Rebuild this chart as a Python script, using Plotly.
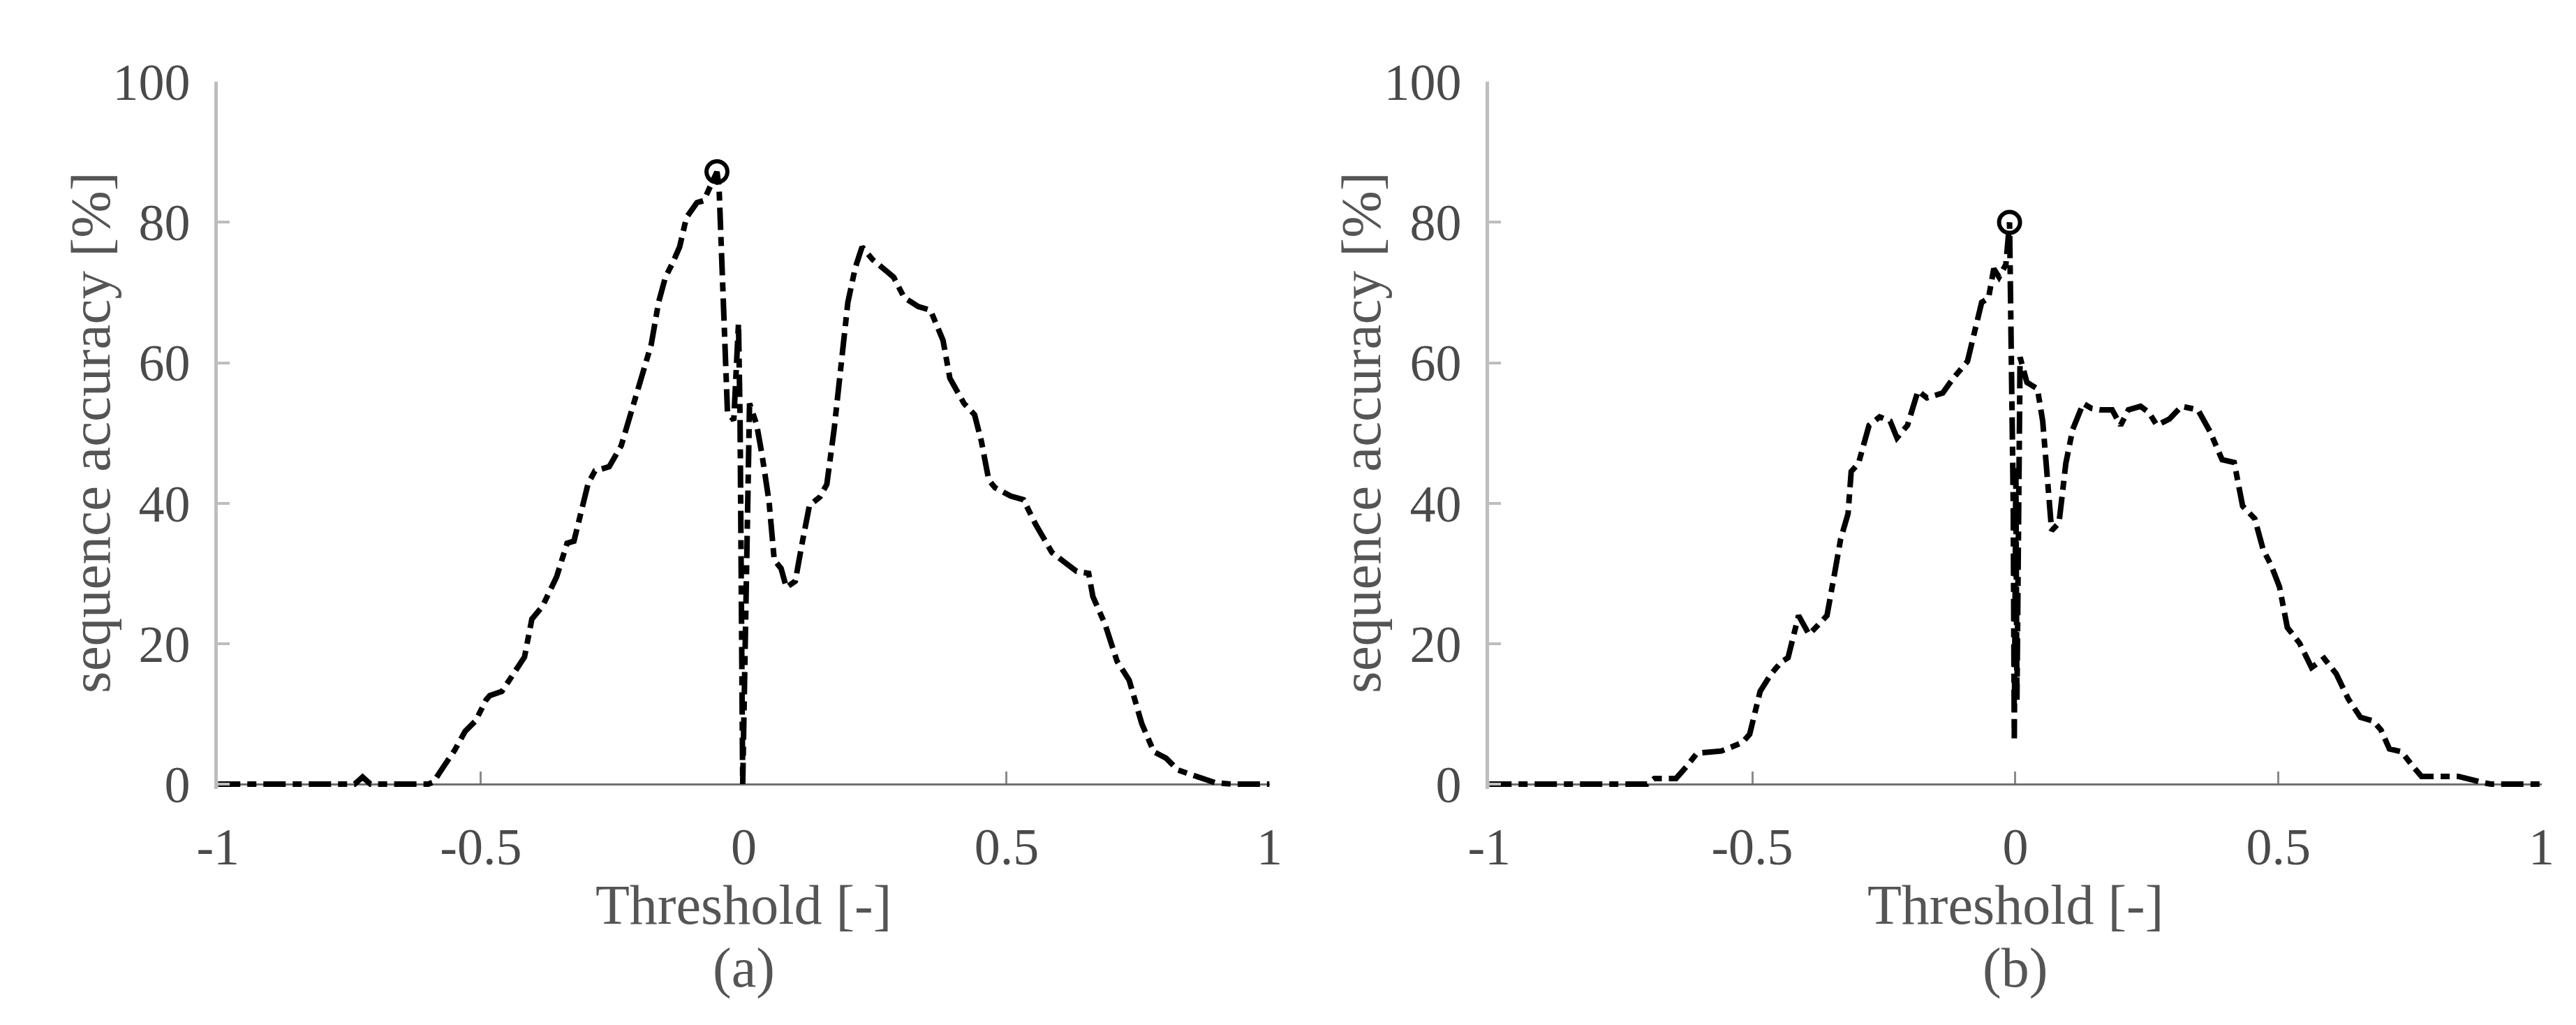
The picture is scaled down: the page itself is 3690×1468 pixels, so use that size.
import numpy as np
import plotly.graph_objects as go

# ---------------- data ----------------
thr_a = [-1.0, -0.80, -0.74, -0.725, -0.71, -0.60, -0.59, -0.577, -0.55, -0.53, -0.51, -0.49, -0.483,
         -0.46, -0.44, -0.417, -0.403, -0.383, -0.356, -0.336, -0.323, -0.296, -0.283, -0.256, -0.233,
         -0.216, -0.196, -0.176, -0.162, -0.149, -0.136, -0.122, -0.109, -0.089, -0.076, -0.062, -0.051,
         -0.047, -0.031, -0.019, -0.010, -0.007, -0.002, 0.011, 0.0245, 0.0345, 0.048, 0.058, 0.071,
         0.081, 0.098, 0.111, 0.125, 0.145, 0.158, 0.172, 0.185, 0.198, 0.212, 0.225, 0.245, 0.265,
         0.285, 0.305, 0.332, 0.355, 0.379, 0.392, 0.419, 0.439, 0.452, 0.466, 0.478, 0.508, 0.532,
         0.555, 0.586, 0.617, 0.633, 0.656, 0.664, 0.687, 0.710, 0.733, 0.757, 0.780, 0.803, 0.826,
         0.865, 0.896, 0.927, 1.0]
acc_a = [0, 0, 0, 1.0, 0, 0, 0.3, 1.8, 4.8, 7.5, 9.0, 12.0, 12.6,
         13.2, 15.5, 18.1, 23.5, 25.3, 29.5, 34.3, 34.6, 42.8, 44.6, 45.2, 48.2,
         52.4, 57.2, 62.6, 68.6, 72.2, 74.1, 76.5, 80.7, 82.8, 83.1, 85.2, 87.2,
         85.0, 53.0, 51.8, 65.6, 51.8, 0, 54.2, 51.2, 47.0, 40.3, 31.9, 30.7,
         28.0, 28.9, 34.3, 39.7, 40.9, 42.7, 50.6, 59.0, 68.6, 73.5, 76.5, 74.7, 73.5,
         72.2, 69.3, 68.0, 67.5, 63.2, 57.8, 54.2, 52.6, 48.8, 43.3, 42.2, 41.0, 40.5,
         37.0, 33.0, 31.2, 30.3, 30.0, 26.7, 22.8, 17.5, 14.8, 8.6, 4.6, 3.7, 2.0,
         1.0, 0.2, 0, 0]

thr_b = [-1.0, -0.70, -0.686, -0.645, -0.625, -0.605, -0.559, -0.530, -0.519, -0.505, -0.485, -0.465,
         -0.445, -0.432, -0.412, -0.392, -0.375, -0.358, -0.345, -0.332, -0.318, -0.312, -0.298, -0.278,
         -0.258, -0.238, -0.225, -0.205, -0.185, -0.168, -0.138, -0.118, -0.091, -0.078, -0.064, -0.051,
         -0.041, -0.031, -0.018, -0.011, -0.004, -0.002, 0.001, 0.003, 0.009, 0.022, 0.042, 0.052, 0.062,
         0.069, 0.083, 0.096, 0.109, 0.129, 0.145, 0.161, 0.184, 0.200, 0.215, 0.238, 0.254, 0.269,
         0.293, 0.316, 0.347, 0.370, 0.393, 0.416, 0.432, 0.455, 0.471, 0.486, 0.502, 0.517, 0.540,
         0.563, 0.587, 0.610, 0.633, 0.656, 0.680, 0.695, 0.711, 0.734, 0.757, 0.772, 0.796, 0.842,
         0.889, 0.904, 1.0]
acc_b = [0, 0, 0.8, 0.8, 2.5, 4.4, 4.7, 5.5, 5.9, 7.1, 13.2, 15.6,
         17.4, 18.0, 24.0, 21.3, 22.8, 24.0, 29.4, 34.9, 38.5, 44.5, 45.7, 51.1,
         52.3, 51.7, 49.3, 51.1, 56.0, 55.0, 55.7, 57.8, 60.2, 64.4, 68.6, 69.2,
         73.4, 72.2, 74.0, 80.0, 40.0, 6.5, 45.0, 12.0, 60.8, 57.2, 56.3, 51.7, 41.5,
         36.1, 37.2, 45.7, 50.5, 54.2, 53.5, 53.3, 53.3, 51.1, 53.3, 53.8, 52.9, 51.1,
         52.0, 53.8, 53.3, 50.2, 46.2, 45.8, 39.6, 37.8, 33.4, 31.2, 28.1, 22.3, 20.1,
         16.6, 17.9, 15.7, 12.1, 9.5, 9.0, 7.7, 5.0, 4.6, 2.4, 1.1, 1.1, 1.1,
         0.2, 0, 0]

x_tickvals = [-1, -0.5, 0, 0.5, 1]
x_ticktext = ["-1", "-0.5", "0", "0.5", "1"]
y_tickvals = [0, 20, 40, 60, 80, 100]
y_ticktext = ["0", "20", "40", "60", "80", "100"]
x_title = "Threshold [-]"
y_title = "sequence accuracy [%]"
captions = ["(a)", "(b)"]

# ---------------- layout geometry (pixels of 3690x1468 canvas) ----------------
W, H = 3690, 1468
FONT = "Liberation Serif"
TICK_COLOR_TXT = "#4a4a4a"
LABEL_COLOR = "#555555"
panels = [
    dict(x0=277, x1=1804, ytitle_x=92),
    dict(x0=2123, x1=3651, ytitle_x=1937),
]
Y0_PIX, Y100_PIX = 1132, 73
YMIN = -0.7
ppu = (Y0_PIX - Y100_PIX) / 100.0
ybottom_pix = Y0_PIX - YMIN * ppu

fig = go.Figure()
datasets = [(thr_a, acc_a), (thr_b, acc_b)]
annotations = []
for i, (p, (tx, ty)) in enumerate(zip(panels, datasets)):
    xa = "x" if i == 0 else "x2"
    ya = "y" if i == 0 else "y2"
    fig.add_trace(go.Scatter(
        x=tx, y=ty, mode="lines", xaxis=xa, yaxis=ya, showlegend=False,
        line=dict(color="black", width=8, dash="32px,10px,13px,10px"),
    ))
    k = int(np.argmax(ty))
    fig.add_trace(go.Scatter(
        x=[tx[k]], y=[ty[k]], mode="markers", xaxis=xa, yaxis=ya, showlegend=False,
        marker=dict(symbol="circle-open", size=30, color="black", line=dict(width=6, color="black")),
        cliponaxis=False,
    ))
    xd = [p["x0"] / W, p["x1"] / W]
    yd = [1 - ybottom_pix / H, 1 - Y100_PIX / H]
    xkey = "xaxis" if i == 0 else "xaxis2"
    ykey = "yaxis" if i == 0 else "yaxis2"
    fig.update_layout(**{
        xkey: dict(domain=xd, range=[-1, 1], anchor="free", position=1 - Y0_PIX / H,
                   showgrid=False, zeroline=False, showline=True, linecolor="#6f6f6f", linewidth=3,
                   layer="below traces",
                   ticks="inside", ticklen=17, tickwidth=3, tickcolor="#8a8a8a",
                   tickvals=x_tickvals, ticktext=x_ticktext, ticklabelstandoff=24,
                   tickfont=dict(family=FONT, size=74, color=TICK_COLOR_TXT)),
        ykey: dict(domain=yd, range=[YMIN, 100], anchor=xa,
                   showgrid=False, zeroline=False, showline=True, linecolor="#bdbdbd", linewidth=5,
                   ticks="inside", ticklen=17, tickwidth=4, tickcolor="#bdbdbd",
                   tickvals=y_tickvals, ticktext=y_ticktext, ticklabelstandoff=20,
                   tickfont=dict(family=FONT, size=74, color=TICK_COLOR_TXT)),
    })
    xc = (p["x0"] + p["x1"]) / 2 / W
    annotations += [
        dict(text=x_title, x=xc, y=1 - 1314 / H, xref="paper", yref="paper", showarrow=False,
             xanchor="center", yanchor="middle", font=dict(family=FONT, size=80, color=LABEL_COLOR)),
        dict(text=captions[i], x=xc, y=1 - 1410 / H, xref="paper", yref="paper", showarrow=False,
             xanchor="center", yanchor="middle", font=dict(family=FONT, size=80, color=LABEL_COLOR)),
        dict(text=y_title, x=p["ytitle_x"] / W, y=1 - (Y0_PIX + Y100_PIX) / 2 / H, xref="paper", yref="paper",
             showarrow=False, textangle=-90, xanchor="center", yanchor="middle",
             font=dict(family=FONT, size=81, color=LABEL_COLOR)),
    ]

fig.update_layout(
    width=W, height=H, margin=dict(l=0, r=0, t=0, b=0),
    paper_bgcolor="white", plot_bgcolor="white",
    annotations=annotations, showlegend=False,
)
fig.write_html("out.html")
